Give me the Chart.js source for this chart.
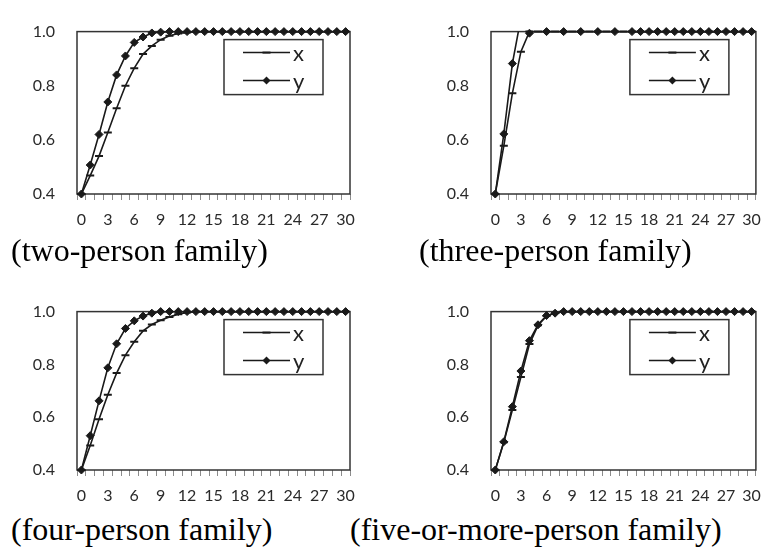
<!DOCTYPE html>
<html>
<head>
<meta charset="utf-8">
<script src="https://cdn.jsdelivr.net/npm/chart.js@4.4.0/dist/chart.umd.min.js"></script>
<style>
body { margin: 0; background: #fff; }
#page { position: relative; width: 771px; height: 550px; overflow: hidden; background: #fff; }
.panel { position: absolute; }
.caption { position: absolute; font-family: "Liberation Serif", "Times New Roman", serif; font-size: 32px; line-height: 32px; color: #000; white-space: nowrap; }
</style>
</head>
<body>
<div id="page">
  <canvas id="two" class="panel" width="385" height="235" style="left:0;top:0"></canvas>
  <canvas id="three" class="panel" width="386" height="235" style="left:385px;top:0"></canvas>
  <canvas id="four" class="panel" width="385" height="231" style="left:0;top:280px"></canvas>
  <canvas id="five" class="panel" width="386" height="231" style="left:385px;top:280px"></canvas>
  <div class="caption" style="left:11px;top:234px">(two-person family)</div>
  <div class="caption" style="left:419px;top:234px">(three-person family)</div>
  <div class="caption" style="left:11px;top:513px">(four-person family)</div>
  <div class="caption" style="left:350px;top:513px">(five-or-more-person family)</div>
</div>
<script>
// categories on the x axis
var steps = ['0','1','2','3','4','5','6','7','8','9','10','11','12','13','14','15',
             '16','17','18','19','20','21','22','23','24','25','26','27','28','29','30'];
var seriesNames = ['x', 'y'];

// two-person family
var twoX = [0.40, 0.468, 0.54, 0.627, 0.717, 0.80, 0.865, 0.917, 0.947, 0.97, 0.985, 0.993, 0.997, 1, 1, 1,
            1, 1, 1, 1, 1, 1, 1, 1, 1, 1, 1, 1, 1, 1, 1];
var twoY = [0.40, 0.507, 0.62, 0.74, 0.84, 0.91, 0.96, 0.98, 0.995, 0.998, 1, 1, 1, 1, 1, 1,
            1, 1, 1, 1, 1, 1, 1, 1, 1, 1, 1, 1, 1, 1, 1];

// three-person family (some y values run just over 1.0 and get clipped)
var threeX = [0.40, 0.578, 0.772, 0.926, 1, 1, 1, 1, 1, 1, 1, 1, 1, 1, 1, 1,
              1, 1, 1, 1, 1, 1, 1, 1, 1, 1, 1, 1, 1, 1, 1];
var threeY = [0.40, 0.622, 0.882, 1.05, 0.994, 1.03, 1, 1.03, 1, 1.03, 1, 1.03, 1, 1.03, 1, 1.03,
              1, 1, 1, 1, 1, 1, 1, 1, 1, 1, 1, 1, 1, 1, 1];

// four-person family
var fourX = [0.40, 0.493, 0.592, 0.685, 0.767, 0.835, 0.886, 0.927, 0.951, 0.967, 0.98, 0.99, 0.997, 1, 1, 1,
             1, 1, 1, 1, 1, 1, 1, 1, 1, 1, 1, 1, 1, 1, 1];
var fourY = [0.40, 0.53, 0.662, 0.787, 0.878, 0.936, 0.965, 0.983, 0.994, 1, 1, 1, 1, 1, 1, 1,
             1, 1, 1, 1, 1, 1, 1, 1, 1, 1, 1, 1, 1, 1, 1];

// five-or-more-person family
var fiveX = [0.40, 0.505, 0.627, 0.752, 0.877, 0.948, 0.983, 0.995, 1, 1, 1, 1, 1, 1, 1, 1,
             1, 1, 1, 1, 1, 1, 1, 1, 1, 1, 1, 1, 1, 1, 1];
var fiveY = [0.40, 0.507, 0.64, 0.775, 0.89, 0.95, 0.985, 0.994, 1, 1, 1, 1, 1, 1, 1, 1,
             1, 1, 1, 1, 1, 1, 1, 1, 1, 1, 1, 1, 1, 1, 1];

var ink = '#1a1a1a';
var tickFont = { family: 'Lato, "Open Sans", sans-serif', size: 16 };

function drawMarker(ctx, style, x, y) {
  ctx.save();
  ctx.fillStyle = ink;
  ctx.strokeStyle = ink;
  if (style === 'line') {
    ctx.lineWidth = 2;
    ctx.beginPath();
    ctx.moveTo(x - 4, y);
    ctx.lineTo(x + 4, y);
    ctx.stroke();
  } else {
    ctx.beginPath();
    ctx.moveTo(x, y - 4);
    ctx.lineTo(x + 4, y);
    ctx.lineTo(x, y + 4);
    ctx.lineTo(x - 4, y);
    ctx.closePath();
    ctx.fill();
  }
  ctx.restore();
}

// plot area frame + boxed legend inside the plot, like the Excel original
var plotFrame = {
  id: 'plotFrame',
  beforeDatasetsDraw: function(chart) {
    var a = chart.chartArea, ctx = chart.ctx;
    ctx.save();
    ctx.strokeStyle = '#333';
    ctx.lineWidth = 1.5;
    ctx.strokeRect(a.left, a.top, a.right - a.left, a.bottom - a.top);
    ctx.restore();
  },
  afterDatasetsDraw: function(chart) {
    var a = chart.chartArea, ctx = chart.ctx;
    var bw = 99, bh = 55;
    var bx = a.right - 27 - bw, by = a.top + 8;
    var styles = ['line', 'rectRot'];
    ctx.save();
    ctx.fillStyle = '#fff';
    ctx.fillRect(bx, by, bw, bh);
    ctx.strokeStyle = '#333';
    ctx.lineWidth = 1.5;
    ctx.strokeRect(bx, by, bw, bh);
    for (var i = 0; i < seriesNames.length; i++) {
      var yy = by + 13 + i * 28;
      ctx.strokeStyle = ink;
      ctx.lineWidth = 1.5;
      ctx.beginPath();
      ctx.moveTo(bx + 19, yy);
      ctx.lineTo(bx + 66, yy);
      ctx.stroke();
      drawMarker(ctx, styles[i], bx + 42.5, yy);
      ctx.fillStyle = '#222';
      ctx.font = '22px Lato, "Open Sans", sans-serif';
      ctx.textBaseline = 'middle';
      ctx.fillText(seriesNames[i], bx + 69, yy + 1);
    }
    ctx.restore();
  }
};

function makePanel(id, xs, ys, yAxisWidth, padTop, padRight) {
  return new Chart(document.getElementById(id), {
    type: 'line',
    data: {
      labels: steps,
      datasets: [
        { label: seriesNames[0], data: xs, borderColor: ink, borderWidth: 1.6, pointRadius: 0, clip: 0 },
        { label: seriesNames[1], data: ys, borderColor: ink, borderWidth: 1.6, pointRadius: 0, clip: 0 },
        { label: seriesNames[0], data: xs, showLine: false, pointStyle: 'line', pointRadius: 4,
          pointBorderWidth: 2, pointBorderColor: ink, clip: 6 },
        { label: seriesNames[1], data: ys, showLine: false, pointStyle: 'rectRot', pointRadius: 4,
          pointBackgroundColor: ink, pointBorderColor: ink, pointBorderWidth: 1, clip: 6 }
      ]
    },
    options: {
      responsive: false,
      animation: false,
      events: [],
      layout: { padding: { top: padTop, right: padRight, left: 0, bottom: 0 } },
      plugins: { legend: { display: false }, tooltip: { enabled: false } },
      scales: {
        x: {
          offset: true,
          grid: { offset: true, drawOnChartArea: false, drawTicks: true, tickLength: 6, color: '#8c8c8c', lineWidth: 1 },
          border: { display: false },
          ticks: {
            autoSkip: false, maxRotation: 0, minRotation: 0, padding: 10,
            color: '#2a2a2a', font: tickFont,
            callback: function(value, index) { return index % 3 === 0 ? steps[index] : ''; }
          },
          afterFit: function(scale) { scale.height = 41; }
        },
        y: {
          min: 0.4, max: 1.0,
          grid: { display: false, drawTicks: false },
          border: { display: false },
          ticks: {
            stepSize: 0.2, padding: 22, color: '#2a2a2a', font: tickFont,
            callback: function(value) { return Number(value).toFixed(1); }
          },
          afterFit: function(scale) { scale.width = yAxisWidth; }
        }
      }
    },
    plugins: [plotFrame]
  });
}

makePanel('two', twoX, twoY, 77, 24, 35);
makePanel('three', threeX, threeY, 106, 24, 5);
makePanel('four', fourX, fourY, 77, 18, 35);
makePanel('five', fiveX, fiveY, 106, 18, 5);
</script>
</body>
</html>
